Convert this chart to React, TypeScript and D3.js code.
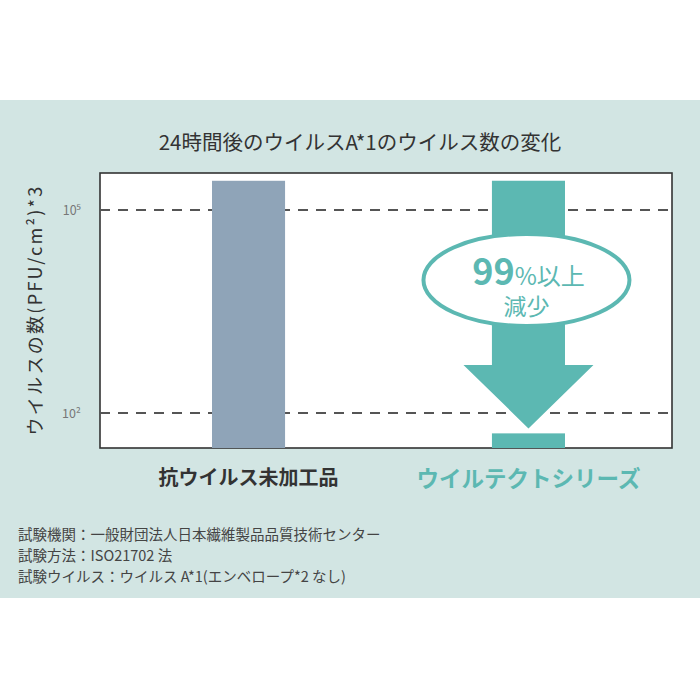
import React from "react";
import * as d3 from "d3";

const categories = ["抗ウイルス未加工品", "ウイルテクトシリーズ"];
const values = [270000, 50];
const tickValues = [100000, 100];
const tickLabels = ["10⁵", "10²"];
const title = "24時間後のウイルスA*1のウイルス数の変化";
const yLabel = "ウイルスの数(PFU/cm²)*3";
const notes = [
  "試験機関：一般財団法人日本繊維製品品質技術センター",
  "試験方法：ISO21702 法",
  "試験ウイルス：ウイルス A*1(エンベロープ*2 なし)",
];

export default function App() {
  const W = 700, H = 700;
  const left = 100, right = 672, top = 173, bottom = 448;
  const y = d3.scaleLog().domain([30.4, 352000]).range([bottom, top]);
  const x = d3.scaleBand().domain(categories).range([212, 565]).paddingInner(0.739).paddingOuter(0);
  const bw = x.bandwidth();
  const colors = ["#8fa4b8", "#5cb8b2"];
  const teal = "#5cb8b2";
  const x2 = x(categories[1])!;
  const cx2 = x2 + bw / 2;
  const shaftTop = y(values[0]);
  const headBase = 365;
  const tipY = y(values[1]) - 5;
  const font = "'Noto Sans CJK JP', 'Noto Sans', sans-serif";

  const arrowPath = `M${x2},${shaftTop} L${x2 + bw},${shaftTop} L${x2 + bw},${headBase} L${cx2 + 65},${headBase} L${cx2},${tipY} L${cx2 - 65},${headBase} L${x2},${headBase} Z`;

  return (
    <svg width={W} height={H} style={{ position: "absolute", left: 0, top: 0, background: "#fff" }} fontFamily={font}>
      <rect x={0} y={100} width={700} height={498} fill="#d2e5e3" />
      <text x={360} y={150} textAnchor="middle" fontSize={20.5} fill="#333">{title}</text>
      <rect x={left} y={top} width={right - left} height={bottom - top} fill="#fff" stroke="#333" strokeWidth={1.6} />
      {tickValues.map((t, i) => (
        <g key={i}>
          <line x1={left} x2={right} y1={y(t)} y2={y(t)} stroke="#555" strokeWidth={2} strokeDasharray="10 8" />
          <text x={81} y={y(t) + 5} textAnchor="end" fontSize={12.5} fill="#777">{tickLabels[i]}</text>
        </g>
      ))}
      <rect x={x(categories[0])} y={y(values[0])} width={bw} height={bottom - y(values[0])} fill={colors[0]} />
      <rect x={x2} y={y(values[1])} width={bw} height={bottom - y(values[1])} fill={colors[1]} />
      <path d={arrowPath} fill={teal} />
      <ellipse cx={cx2 - 2} cy={280} rx={103} ry={46} fill="#fff" stroke={teal} strokeWidth={4} />
      <text x={cx2} y={285} textAnchor="middle" fill={teal}>
        <tspan fontSize={36} fontWeight="bold">99</tspan>
        <tspan fontSize={24}>%以上</tspan>
      </text>
      <text x={cx2 - 2} y={315} textAnchor="middle" fontSize={23} fill={teal}>減少</text>
      <text x={34} y={310} transform="rotate(-90 34 310)" textAnchor="middle" dominantBaseline="central" fontSize={18} letterSpacing={2.3} fill="#333">{yLabel}</text>
      <text x={x(categories[0])! + bw / 2} y={485} textAnchor="middle" fontSize={20} fontWeight="bold" fill="#333">{categories[0]}</text>
      <text x={cx2} y={487} textAnchor="middle" fontSize={22.5} fontWeight="bold" fill={teal}>{categories[1]}</text>
      {notes.map((n, i) => (
        <text key={i} x={18} y={540 + i * 21} fontSize={14.5} fill="#444">{n}</text>
      ))}
    </svg>
  );
}
